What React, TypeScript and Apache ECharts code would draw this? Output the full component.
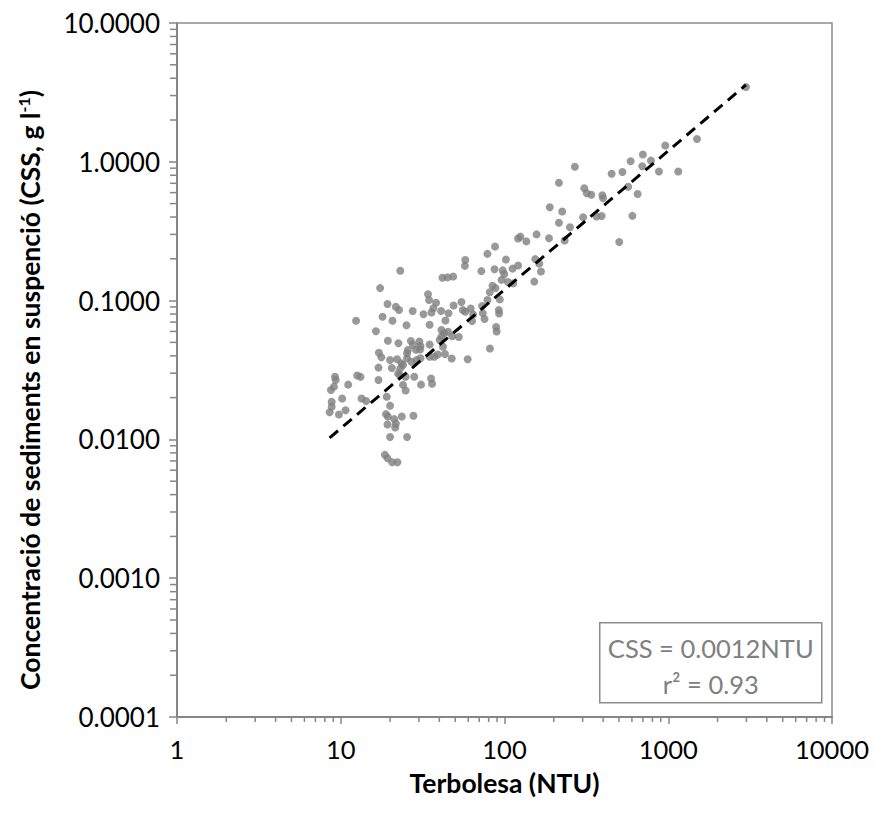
import React, { useEffect, useRef } from 'react';
import * as echarts from 'echarts';

// Turbidity (NTU) and suspended sediment concentration (g/l)
const ntu = [
  23.1, 17.4, 12.4, 19.3, 21.7, 22.7, 27.5, 18.0, 20.7, 25.2,
  16.4, 19.4, 22.5, 26.8, 25.7, 17.1, 17.7, 20.0, 22.1, 25.4,
  24.0, 17.0, 20.5, 22.9, 24.9, 28.1, 9.22, 9.31, 12.6, 13.2,
  17.0, 11.1, 9.09, 8.71, 24.0, 24.9, 10.2, 13.4, 14.3, 19.1,
  8.80, 8.80, 20.0, 10.7, 8.55, 9.75, 18.9, 19.4, 23.6, 27.8,
  21.2, 21.7, 19.3, 21.5, 20.0, 25.4, 18.6, 19.3, 20.6, 22.2,
  25.4, 27.0, 23.5, 34.1, 34.6, 38.2, 32.0, 35.8, 36.8, 41.0,
  45.5, 43.6, 48.9, 54.6, 55.6, 57.6, 62.2, 64.3, 63.4, 73.0,
  73.7, 75.5, 78.7, 93.6, 92.3, 92.7, 88.9, 89.5, 81.5, 59.6,
  47.6, 43.3, 34.9, 41.2, 42.7, 45.2, 48.0, 52.6, 41.2, 40.2,
  42.1, 34.9, 30.5, 28.8, 30.2, 30.7, 29.1, 30.7, 34.9, 37.3,
  39.1, 30.9, 35.6, 36.1, 27.6, 23.1, 22.4, 41.8, 44.9, 48.6,
  57.6, 57.3, 72.2, 78.7, 87.6, 86.9, 97.6, 99.7, 102, 112,
  121, 84.5, 81.3, 88.2, 113, 105, 152, 154, 163, 167,
  95.9, 121, 125, 136, 157, 187, 233, 189, 225, 215,
  251, 215, 269, 307, 318, 339, 302, 365, 392, 396,
  400, 451, 525, 569, 650, 604, 502, 589, 700, 784,
  694, 877, 959, 1151, 1498, 2985
];
const css = [
  0.164, 0.123, 0.0716, 0.0945, 0.0904, 0.0856, 0.0841, 0.0766, 0.0716, 0.0664,
  0.0601, 0.0514, 0.0493, 0.0512, 0.0441, 0.0421, 0.0390, 0.0373, 0.0378, 0.0384,
  0.0344, 0.0329, 0.0327, 0.0291, 0.0283, 0.0283, 0.0283, 0.0268, 0.0289, 0.0282,
  0.0268, 0.0248, 0.0240, 0.0227, 0.0247, 0.0225, 0.0197, 0.0197, 0.0189, 0.0203,
  0.0187, 0.0172, 0.0175, 0.0162, 0.0157, 0.0151, 0.0152, 0.0146, 0.0146, 0.0148,
  0.0140, 0.0130, 0.0128, 0.0122, 0.0104, 0.0104, 0.00774, 0.00731, 0.00684, 0.00684,
  0.0417, 0.0363, 0.0353, 0.111, 0.101, 0.0966, 0.0798, 0.0821, 0.088, 0.0841,
  0.0810, 0.0719, 0.0922, 0.0977, 0.0856, 0.0832, 0.0877, 0.0794, 0.0713, 0.0914,
  0.0810, 0.0737, 0.101, 0.102, 0.0856, 0.0807, 0.0645, 0.0599, 0.0452, 0.0378,
  0.0383, 0.0412, 0.0670, 0.0614, 0.0581, 0.0597, 0.0553, 0.0547, 0.0550, 0.0520,
  0.0465, 0.0483, 0.0444, 0.0442, 0.0508, 0.0471, 0.0373, 0.0384, 0.0394, 0.0394,
  0.0409, 0.0248, 0.0275, 0.0252, 0.0479, 0.0325, 0.0299, 0.146, 0.147, 0.149,
  0.196, 0.178, 0.163, 0.217, 0.245, 0.168, 0.165, 0.155, 0.198, 0.170,
  0.179, 0.128, 0.115, 0.123, 0.133, 0.136, 0.137, 0.199, 0.185, 0.162,
  0.141, 0.280, 0.289, 0.267, 0.300, 0.281, 0.271, 0.471, 0.439, 0.364,
  0.338, 0.707, 0.922, 0.645, 0.593, 0.579, 0.398, 0.404, 0.407, 0.574,
  0.547, 0.821, 0.844, 0.661, 0.586, 0.408, 0.264, 1.01, 1.13, 1.02,
  0.928, 0.851, 1.31, 0.851, 1.46, 3.46
];

// Axis ranges / tick labels
const xTickValues = [1, 10, 100, 1000, 10000];
const yTickValues = [0.0001, 0.001, 0.01, 0.1, 1, 10];
const xMinorValues = [
  2, 3, 4, 5, 6, 7, 8, 9, 20, 30, 40, 50, 60, 70, 80, 90,
  200, 300, 400, 500, 600, 700, 800, 900, 2000, 3000, 4000, 5000, 6000, 7000, 8000, 9000
];
const yMinorValues = [
  0.0002, 0.0003, 0.0004, 0.0005, 0.0006, 0.0007, 0.0008, 0.0009,
  0.002, 0.003, 0.004, 0.005, 0.006, 0.007, 0.008, 0.009,
  0.02, 0.03, 0.04, 0.05, 0.06, 0.07, 0.08, 0.09,
  0.2, 0.3, 0.4, 0.5, 0.6, 0.7, 0.8, 0.9,
  2, 3, 4, 5, 6, 7, 8, 9
];

// Fitted relation CSS = 0.0012 * NTU
const fitSlope = 0.0012;
const equationLines = ['CSS = 0.0012NTU', 'r\u00b2 = 0.93'];
const xTitle = 'Terbolesa (NTU)';
const yTitle = 'Concentració de sediments en suspenció (CSS, g l{sup|-1})';

const FONT = 'Lato, "Open Sans", sans-serif';
const AXIS_GRAY = '#868686';

export default function App() {
  const ref = useRef<HTMLDivElement>(null);

  useEffect(() => {
    if (!ref.current) return;
    const chart = echarts.init(ref.current, undefined, { renderer: 'svg' });

    const xMin = xTickValues[0];
    const xMax = xTickValues[xTickValues.length - 1];
    const yMin = yTickValues[0];
    const yMax = yTickValues[yTickValues.length - 1];

    const points = ntu.map((x, i) => [x, css[i]]);
    const nMin = Math.min(...ntu);
    const nMax = Math.max(...ntu);
    const fitData = [
      [nMin, fitSlope * nMin],
      [nMax, fitSlope * nMax]
    ];

    const option: any = {
      animation: false,
      backgroundColor: '#ffffff',
      grid: {
        left: 177,
        right: 44,
        top: 23,
        bottom: 97,
        show: true,
        borderColor: '#8c8c8c',
        borderWidth: 1.5,
        backgroundColor: 'transparent'
      },
      xAxis: {
        type: 'log',
        logBase: 10,
        min: xMin,
        max: xMax,
        splitNumber: 4,
        name: xTitle,
        nameLocation: 'middle',
        nameGap: 52,
        nameMoveOverlap: false,
        nameTextStyle: { fontFamily: FONT, fontWeight: 'bold', fontSize: 26.5, lineHeight: 28, color: '#000' },
        axisLine: { show: true, onZero: false, lineStyle: { color: AXIS_GRAY, width: 2 } },
        axisTick: { show: true, length: 7, inside: false, lineStyle: { color: AXIS_GRAY, width: 1.5 } },
        splitLine: { show: false },
        minorTick: { show: false },
        axisLabel: {
          margin: 19,
          fontFamily: FONT,
          fontSize: 25.5,
          lineHeight: 26,
          color: '#000',
          formatter: (v: number) => String(Math.round(v))
        }
      },
      yAxis: {
        type: 'log',
        logBase: 10,
        min: yMin,
        max: yMax,
        splitNumber: 5,
        name: yTitle,
        nameLocation: 'middle',
        nameRotate: 90,
        nameGap: 133,
        nameMoveOverlap: false,
        nameTextStyle: {
          fontFamily: FONT,
          fontWeight: 'bold',
          fontSize: 26.5,
          color: '#000',
          padding: [0, 40, 0, 0],
          rich: {
            sup: { fontFamily: FONT, fontWeight: 'bold', fontSize: 16, color: '#000', verticalAlign: 'top', padding: [0, 0, 13, 0] }
          }
        },
        axisLine: { show: true, onZero: false, lineStyle: { color: AXIS_GRAY, width: 2 } },
        axisTick: { show: true, length: 8, inside: false, lineStyle: { color: AXIS_GRAY, width: 1.5 } },
        splitLine: { show: false },
        minorTick: { show: false },
        axisLabel: {
          margin: 17,
          fontFamily: FONT,
          fontSize: 26,
          color: '#000',
          formatter: (v: number) => v.toFixed(4)
        }
      },
      series: [
        {
          type: 'scatter',
          data: points,
          symbol: 'circle',
          symbolSize: 8,
          itemStyle: { color: '#808080' },
          z: 2,
          silent: true
        },
        {
          type: 'line',
          data: fitData,
          symbol: 'none',
          lineStyle: { color: '#000', width: 3, type: [11, 7] },
          z: 3,
          silent: true
        },
        {
          type: 'custom',
          data: xMinorValues.map((v) => [v, yMin]),
          clip: false,
          silent: true,
          z: 1,
          renderItem: (params: any, api: any) => {
            const p = api.coord([api.value(0), api.value(1)]);
            return {
              type: 'line',
              shape: { x1: p[0], y1: p[1], x2: p[0], y2: p[1] + 5 },
              style: { stroke: AXIS_GRAY, lineWidth: 1.5 }
            };
          }
        },
        {
          type: 'custom',
          data: yMinorValues.map((v) => [xMin, v]),
          clip: false,
          silent: true,
          z: 1,
          renderItem: (params: any, api: any) => {
            const p = api.coord([api.value(0), api.value(1)]);
            return {
              type: 'line',
              shape: { x1: p[0] - 7, y1: p[1], x2: p[0], y2: p[1] },
              style: { stroke: AXIS_GRAY, lineWidth: 1.5 }
            };
          }
        }
      ],
      graphic: [
        {
          type: 'group',
          left: 599,
          top: 622,
          children: [
            {
              type: 'rect',
              shape: { x: 0, y: 0, width: 222, height: 80 },
              style: { fill: '#ffffff', stroke: '#8c8c8c', lineWidth: 1.5 }
            },
            {
              type: 'text',
              x: 111,
              y: 25,
              style: {
                text: equationLines[0],
                fontFamily: FONT,
                fontSize: 25.5,
                fill: '#808080',
                align: 'center',
                verticalAlign: 'middle'
              }
            },
            {
              type: 'text',
              x: 111,
              y: 61,
              style: {
                text: equationLines[1],
                fontFamily: FONT,
                fontSize: 25.5,
                fill: '#808080',
                align: 'center',
                verticalAlign: 'middle'
              }
            }
          ]
        }
      ]
    };

    chart.setOption(option);
    return () => chart.dispose();
  }, []);

  return (
    <div
      ref={ref}
      style={{ position: 'fixed', left: 0, top: 0, width: 876, height: 814, background: '#fff' }}
    />
  );
}
